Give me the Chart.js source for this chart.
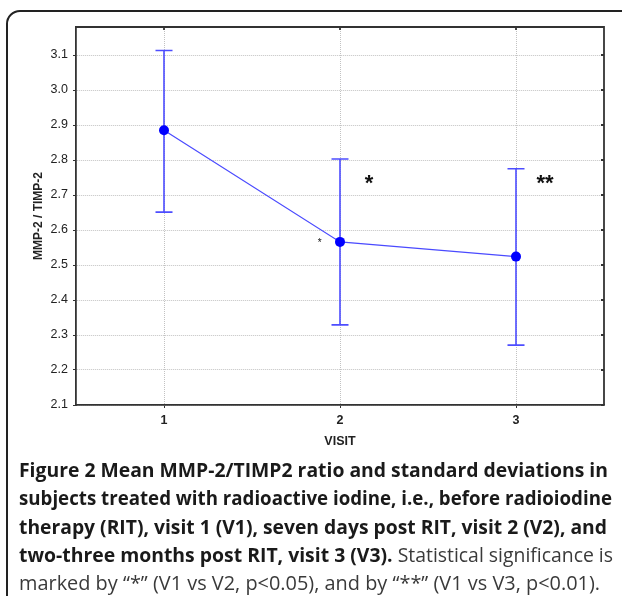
<!DOCTYPE html>
<html>
<head>
<meta charset="utf-8">
<script src="https://cdn.jsdelivr.net/npm/chart.js@4"></script>
<style>
    html, body { margin: 0; padding: 0; background: #fff; width: 622px; height: 596px; overflow: hidden; }
    .frame { position: absolute; left: 6px; top: 10px; width: 660px; height: 640px; border: 2px solid #222; border-radius: 14px; box-sizing: border-box; }
    #chart { position: absolute; left: 0; top: 0; }
    .caption { position: absolute; left: 19px; top: 456px; font-family: 'Open Sans', sans-serif; font-size: 19.4px; line-height: 28.3px; color: #3a3a3a; white-space: nowrap; }
    .caption span { display: inline-block; transform-origin: left center; }
    .caption b { color: #1a1a1a; font-weight: 700; }
</style>
</head>
<body>
<div class="frame"></div>
<canvas id="chart" width="622" height="460"></canvas>
<div class="caption">
    <div><span><b>Figure 2 Mean MMP-2/TIMP2 ratio and standard deviations in</b></span></div>
    <div><span><b>subjects treated with radioactive iodine, i.e., before radioiodine</b></span></div>
    <div><span><b>therapy (RIT), visit 1 (V1), seven days post RIT, visit 2 (V2), and</b></span></div>
    <div><span><b>two-three months post RIT, visit 3 (V3).</b> Statistical significance is</span></div>
    <div><span>marked by “*” (V1 vs V2, p&lt;0.05), and by “**” (V1 vs V3, p&lt;0.01).</span></div>
</div>
<script>
const visits = [1, 2, 3]
const mean_ratio = [2.885, 2.566, 2.524]
const upper_sd = [3.113, 2.803, 2.775]
const lower_sd = [2.651, 2.329, 2.271]
const y_ticks = [2.1, 2.2, 2.3, 2.4, 2.5, 2.6, 2.7, 2.8, 2.9, 3.0, 3.1]
// significance marks next to the visits
const mark_texts = ['*', '**', '*']
const mark_x = [2.165, 3.165, 1.885]
const mark_y = [2.745, 2.745, 2.568]

const FONT = 'Liberation Sans, Arial, sans-serif'
const COLORS = {
    line: '#4a4aff',
    point: '#0000ff',
    whisker: '#4d4dff',
    axis: '#333',
    grid: '#c2c2c2',
    text: '#222'
}

// squeeze each caption line to the width it has in the figure
const caption_widths = [589, 593, 588, 594, 581]
function fit_caption(){
    document.querySelectorAll('.caption span').forEach((span, i) => {
        const w = span.getBoundingClientRect().width
        span.style.transform = `scaleX(${caption_widths[i] / w})`
    })
}

// whiskers go under the line and the points
const error_bars = {
    id: 'error_bars',
    beforeDatasetsDraw(chart){
        const {ctx, scales: {x, y}} = chart
        ctx.save()
        ctx.strokeStyle = COLORS.whisker
        ctx.lineWidth = 1.6
        visits.forEach((v, i) => {
            const px = x.getPixelForValue(v)
            const top = y.getPixelForValue(upper_sd[i])
            const bottom = y.getPixelForValue(lower_sd[i])
            ctx.beginPath()
            ctx.moveTo(px, top); ctx.lineTo(px, bottom)
            ctx.moveTo(px - 8.5, top); ctx.lineTo(px + 8.5, top)
            ctx.moveTo(px - 8.5, bottom); ctx.lineTo(px + 8.5, bottom)
            ctx.stroke()
        })
        ctx.restore()
    }
}

// top and right side of the box with inward ticks, plus the asterisks
const box_and_marks = {
    id: 'box_and_marks',
    afterDraw(chart){
        const {ctx, chartArea: area, scales: {x, y}} = chart
        ctx.save()
        ctx.strokeStyle = COLORS.axis
        ctx.lineWidth = 1.8
        ctx.beginPath()
        ctx.moveTo(area.left, area.top); ctx.lineTo(area.right, area.top); ctx.lineTo(area.right, area.bottom)
        for(const t of y_ticks){
            const py = y.getPixelForValue(t)
            ctx.moveTo(area.right, py); ctx.lineTo(area.right - 3, py)
        }
        for(const v of visits){
            const px = x.getPixelForValue(v)
            ctx.moveTo(px, area.top); ctx.lineTo(px, area.top + 3)
        }
        ctx.stroke()
        ctx.fillStyle = '#111'
        ctx.textAlign = 'center'
        ctx.textBaseline = 'middle'
        mark_texts.forEach((t, i) => {
            ctx.font = t.length > 1 || i === 0 ? `bold 22px ${FONT}` : `10px ${FONT}`
            const off = i === 2 ? 2 : 5
            ctx.fillText(t, x.getPixelForValue(mark_x[i]), y.getPixelForValue(mark_y[i]) + off)
        })
        ctx.restore()
    }
}

function draw_graph(ctx){
    const config = {
        type: 'line',
        data: {
            datasets: [{
                data: visits.map((v, i) => ({x: v, y: mean_ratio[i]})),
                borderColor: COLORS.line,
                borderWidth: 1.2,
                pointRadius: 5,
                pointBackgroundColor: COLORS.point,
                pointBorderColor: COLORS.point,
                pointBorderWidth: 0,
                tension: 0
            }]
        },
        options: {
            responsive: false,
            animation: false,
            layout: { padding: { top: 27, right: 18, left: 0, bottom: 0 } },
            plugins: {
                legend: { display: false },
                tooltip: { enabled: false }
            },
            scales: {
                x: {
                    type: 'linear',
                    min: 0.5,
                    max: 3.5,
                    afterBuildTicks: s => { s.ticks = visits.map(v => ({value: v})) },
                    afterFit: s => { s.height = 55 },
                    grid: { color: COLORS.grid, tickColor: COLORS.axis, tickLength: 3 },
                    border: { color: COLORS.axis, width: 1.8, dash: [1, 1] },
                    ticks: { color: COLORS.text, padding: 5, font: { family: FONT, size: 12.5, weight: 'bold' } },
                    title: {
                        display: true,
                        text: 'VISIT',
                        color: COLORS.text,
                        font: { family: FONT, size: 12.5, weight: 'bold' },
                        padding: { top: 0, bottom: 11 }
                    }
                },
                y: {
                    min: 2.1,
                    max: 3.18,
                    afterBuildTicks: s => { s.ticks = y_ticks.map(v => ({value: v})) },
                    afterFit: s => { s.width = 76 },
                    grid: { color: COLORS.grid, tickColor: COLORS.axis, tickLength: 3 },
                    border: { color: COLORS.axis, width: 1.8, dash: [1, 1] },
                    ticks: {
                        color: COLORS.text,
                        padding: 5,
                        font: { family: FONT, size: 12.5 },
                        callback: v => Number(v).toFixed(1)
                    },
                    title: {
                        display: true,
                        text: 'MMP-2 / TIMP-2',
                        color: COLORS.text,
                        font: { family: FONT, size: 12, weight: 'bold' },
                        padding: { top: 31, bottom: 0 }
                    }
                }
            }
        },
        plugins: [error_bars, box_and_marks]
    }
    return new Chart(ctx, config)
}

fit_caption()
draw_graph(document.getElementById('chart').getContext('2d'))
</script>
</body>
</html>
